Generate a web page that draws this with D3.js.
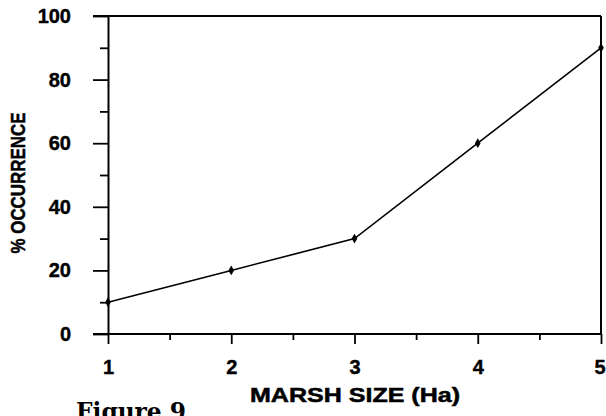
<!DOCTYPE html>
<html>
<head>
<meta charset="utf-8">
<script src="https://cdn.jsdelivr.net/npm/d3@7"></script>
<style>
  html, body { margin: 0; padding: 0; background: #fff; }
  svg { display: block; }
</style>
</head>
<body>
<svg id="chart" width="606" height="416"></svg>
<script>
const marshSize = [1, 2, 3, 4, 5];
const occurrence = [10, 20, 30, 60, 90];
const xTicks = [1, 2, 3, 4, 5];
const xMinorTicks = [1.5, 2.5, 3.5, 4.5];
const yTicks = [0, 20, 40, 60, 80, 100];
const yMinorTicks = [10, 30, 50, 70, 90];
const xTitle = "MARSH SIZE (Ha)";
const yTitle = "% OCCURRENCE";
const caption = "Figure 9";

const svg = d3.select("#chart");
const x = d3.scaleLinear().domain([1, 5]).range([108, 601]);
const y = d3.scaleLinear().domain([0, 100]).range([334, 16]);
const labelFont = "'Liberation Sans', Arial, Helvetica, sans-serif";

// Frame: top & right lines
svg.append("line").attr("x1", 93).attr("x2", x(5)).attr("y1", y(100)).attr("y2", y(100))
  .attr("stroke", "#000").attr("stroke-width", 2);
svg.append("line").attr("x1", x(5)).attr("x2", x(5)).attr("y1", y(100)).attr("y2", y(0))
  .attr("stroke", "#000").attr("stroke-width", 2);

// Y axis
const yAxis = d3.axisLeft(y).tickValues(yTicks).tickSize(15).tickPadding(22).tickSizeOuter(0)
  .tickFormat(d3.format("d"));
const gy = svg.append("g").attr("transform", `translate(${x(1)},0)`).call(yAxis);
gy.select(".domain").attr("stroke-width", 2);
gy.selectAll(".tick line").attr("stroke-width", 1.8);
gy.selectAll(".tick text")
  .attr("font-family", labelFont).attr("font-weight", "bold").attr("font-size", 20)
  .attr("stroke", "#000").attr("stroke-width", 0.4)
  .attr("fill", "#000");
const yMinor = d3.axisLeft(y).tickValues(yMinorTicks).tickSize(8).tickFormat("").tickSizeOuter(0);
const gym = svg.append("g").attr("transform", `translate(${x(1)},0)`).call(yMinor);
gym.select(".domain").remove();
gym.selectAll(".tick line").attr("stroke-width", 1.8);

// X axis
const xAxis = d3.axisBottom(x).tickValues(xTicks).tickSize(10).tickPadding(16).tickSizeOuter(0)
  .tickFormat(d3.format("d"));
const gx = svg.append("g").attr("transform", `translate(0,${y(0)})`).call(xAxis);
gx.select(".domain").remove();
gx.selectAll(".tick line").attr("stroke-width", 1.8);
gx.selectAll(".tick text")
  .attr("font-family", labelFont).attr("font-weight", "bold").attr("font-size", 20)
  .attr("stroke", "#000").attr("stroke-width", 0.4)
  .attr("fill", "#000");
// keep the last label inside the picture, as in the reference
gx.selectAll(".tick text").filter(d => d === 5).attr("text-anchor", "end").attr("x", 4);
svg.append("line").attr("x1", 93).attr("x2", x(5)).attr("y1", y(0)).attr("y2", y(0))
  .attr("stroke", "#000").attr("stroke-width", 2);
const xMinor = d3.axisBottom(x).tickValues(xMinorTicks).tickSize(6).tickFormat("").tickSizeOuter(0);
const gxm = svg.append("g").attr("transform", `translate(0,${y(0)})`).call(xMinor);
gxm.select(".domain").remove();
gxm.selectAll(".tick line").attr("stroke-width", 1.8);

// Data line
const data = marshSize.map((d, i) => ({ x: d, y: occurrence[i] }));
svg.append("path").datum(data)
  .attr("fill", "none").attr("stroke", "#000").attr("stroke-width", 1.6)
  .attr("d", d3.line().x(d => x(d.x)).y(d => y(d.y)));
svg.selectAll(".pt").data(data).enter().append("path")
  .attr("class", "pt")
  .attr("transform", d => `translate(${x(d.x)},${y(d.y)})`)
  .attr("d", d3.symbol().type(d3.symbolDiamond).size(28))
  .attr("fill", "#000");

// Axis titles
svg.append("text").text(xTitle)
  .attr("x", 250).attr("y", 402)
  .attr("textLength", 210).attr("lengthAdjust", "spacingAndGlyphs")
  .attr("font-family", labelFont).attr("font-weight", "bold").attr("font-size", 20)
  .attr("stroke", "#000").attr("stroke-width", 0.5)
  .attr("fill", "#000");
svg.append("text").text(yTitle)
  .attr("transform", "translate(25,183) rotate(-90)")
  .attr("text-anchor", "middle")
  .attr("textLength", 141).attr("lengthAdjust", "spacingAndGlyphs")
  .attr("font-family", labelFont).attr("font-weight", "bold").attr("font-size", 21)
  .attr("stroke", "#000").attr("stroke-width", 0.5)
  .attr("fill", "#000");

// Caption (cut by the bottom edge in the reference too)
svg.append("text").text(caption)
  .attr("x", 76).attr("y", 420)
  .attr("textLength", 110).attr("lengthAdjust", "spacingAndGlyphs")
  .attr("font-family", "'DejaVu Serif', 'Liberation Serif', serif").attr("font-weight", "bold")
  .attr("font-size", 24).attr("fill", "#000");
</script>
</body>
</html>
